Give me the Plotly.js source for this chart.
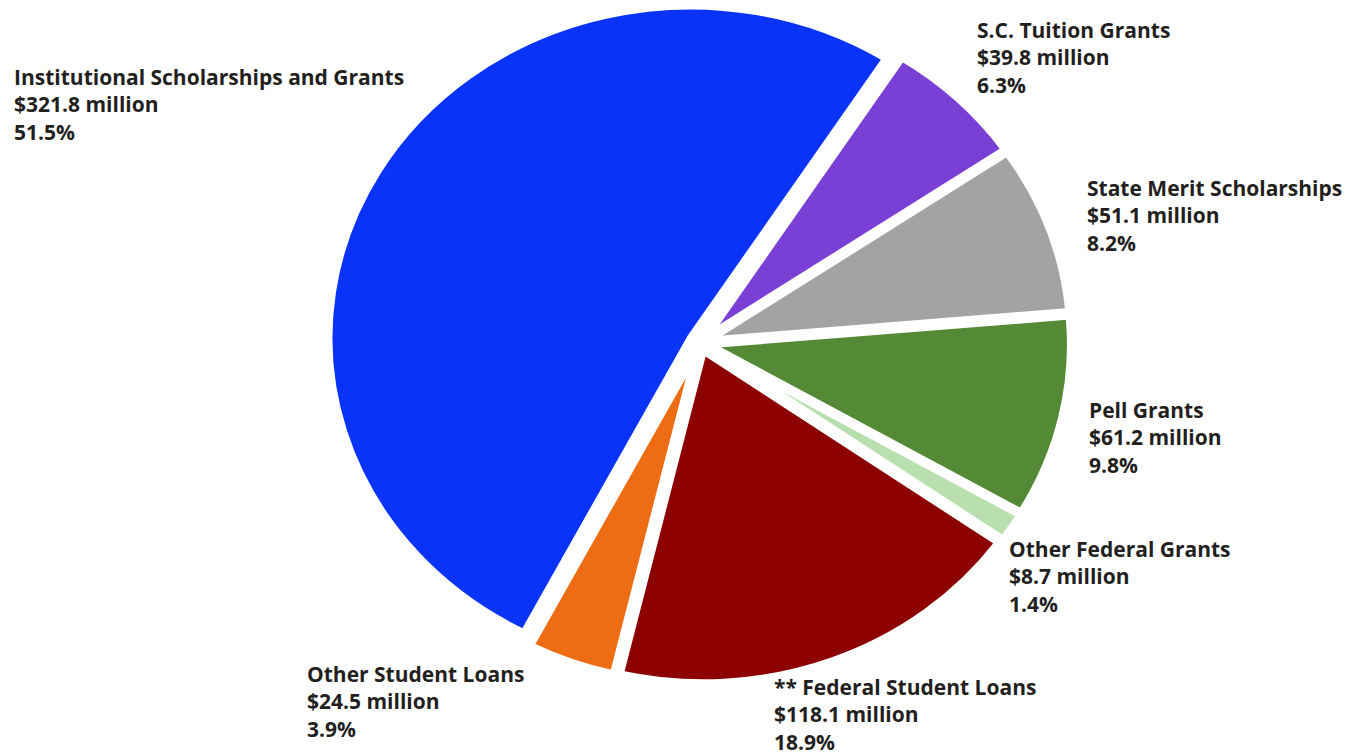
<!DOCTYPE html>
<html><head><meta charset="utf-8">
<script src="https://cdn.plot.ly/plotly-3.0.1.min.js"></script>
<style>html,body{margin:0;padding:0;background:#fff;overflow:hidden}#chart{width:1355px;height:755px}</style>
</head><body><div id="chart"></div>
<script>
// Data (clockwise from the upper-right edge of the large blue slice)
const categories = ['S.C. Tuition Grants', 'State Merit Scholarships', 'Pell Grants', 'Other Federal Grants', '** Federal Student Loans', 'Other Student Loans', 'Institutional Scholarships and Grants'];
const amountsMillion = [39.8, 51.1, 61.2, 8.7, 118.1, 24.5, 321.8];
const percentLabels = ['6.3%', '8.2%', '9.8%', '1.4%', '18.9%', '3.9%', '51.5%'];

// Styles
const sliceColors = ['#7a3fd4', '#a3a3a3', '#548a35', '#b9dfae', '#8c0000', '#ee6c14', '#0a33fa'];
const pulls = [0.025, 0.025, 0.025, 0.025, 0.025, 0.025, 0.03];
// label anchor positions in pixels: left edge of text, centre of middle line
const labelPx = [[978, 57], [1088, 215], [1090, 437], [1010, 576], [775, 714], [308, 701], [15, 104]];

const W = 1355, H = 755;
const cx = 700, cy = 343, R = 342;
const stretchX = 1.09; // the original pie is slightly wider than tall

const annotations = categories.map((c, i) => ({
  xref: 'paper', yref: 'paper',
  x: (labelPx[i][0] - 3) / W, y: 1 - labelPx[i][1] / H,
  xanchor: 'left', yanchor: 'middle', align: 'left', showarrow: false,
  text: '<b>' + c + '<br>$' + amountsMillion[i].toFixed(1) + ' million<br>' + percentLabels[i] + '</b>',
  font: {family: '"Open Sans", Lato, sans-serif', size: 21, color: '#231f20'}
}));

const trace = {
  type: 'pie',
  labels: categories,
  values: amountsMillion,
  sort: false,
  direction: 'clockwise',
  rotation: 32.7,
  pull: pulls,
  textinfo: 'none',
  hoverinfo: 'label+value+percent',
  marker: {colors: sliceColors, line: {color: '#ffffff', width: 7}},
  domain: {x: [(cx - R) / W, (cx + R) / W], y: [Math.max(0, 1 - (cy + R) / H), Math.min(1, 1 - (cy - R) / H)]}
};

const layout = {
  width: W, height: H,
  margin: {l: 0, r: 0, t: 0, b: 0},
  paper_bgcolor: '#ffffff',
  showlegend: false,
  annotations: annotations
};

Plotly.newPlot('chart', [trace], layout, {displayModeBar: false, staticPlot: true}).then(gd => {
  const pl = gd.querySelector('.pielayer');
  if (pl) {
    pl.setAttribute('transform', 'translate(' + cx + ',0) scale(' + stretchX + ',1) translate(' + (-cx) + ',0)');
  }
});
</script></body></html>
